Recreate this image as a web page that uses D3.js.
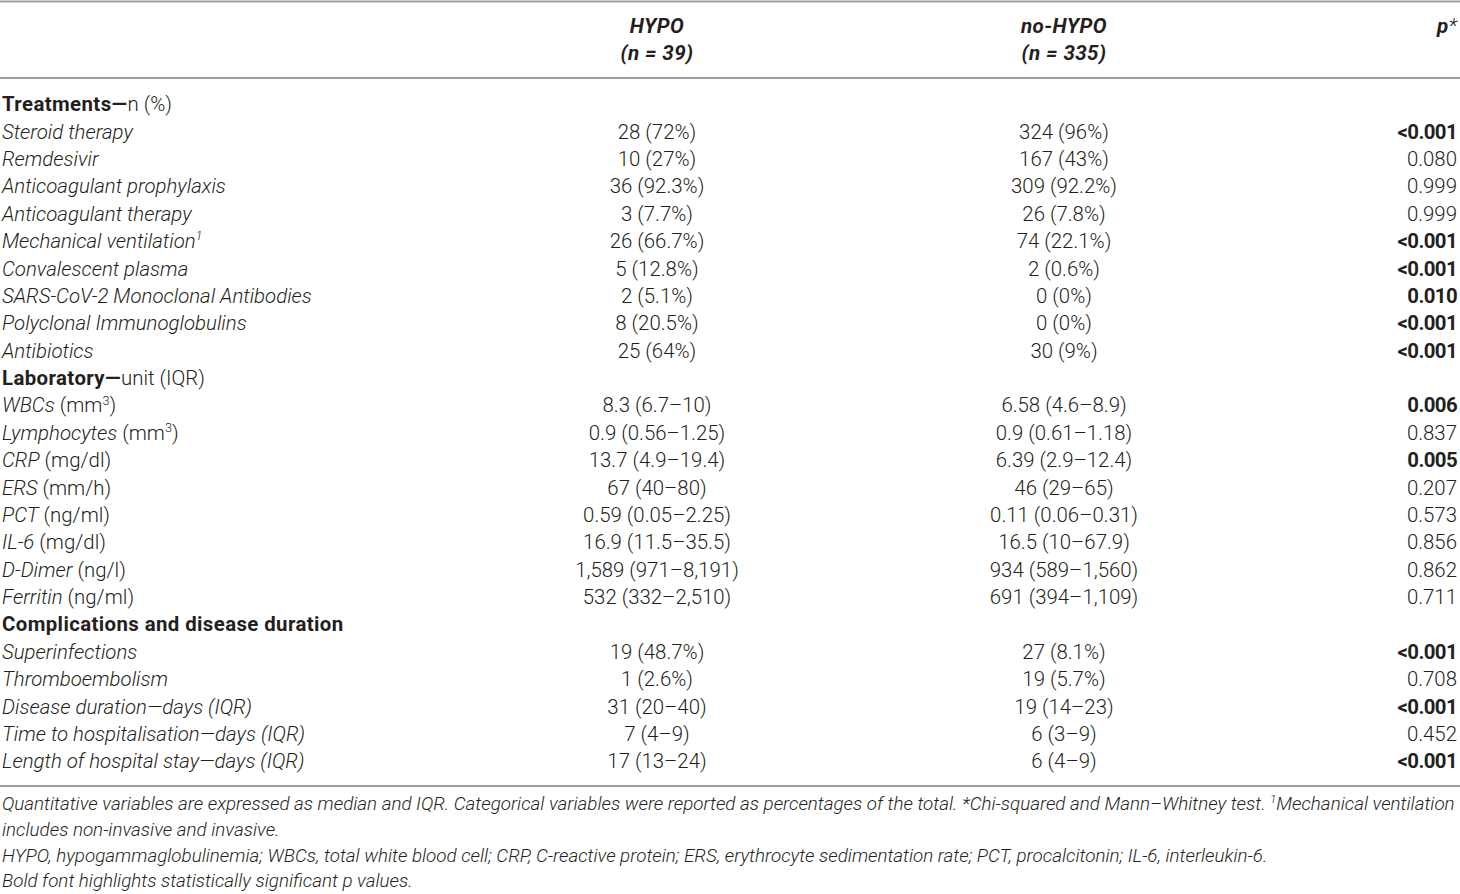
<!DOCTYPE html>
<html><head><meta charset="utf-8">
<script src="https://cdn.jsdelivr.net/npm/d3@7"></script>
<style>
body{margin:0;background:#fff}
svg text{font-family:Roboto,"Liberation Sans",Arial,sans-serif;fill:#231f20;font-weight:300}
</style></head>
<body><svg id="chart" width="1460" height="894"></svg>
<script>
// ---- data ----
const columnHeads = ["_**HYPO**_", "_**no-HYPO**_", "_**p***_"];
const columnSubheads = ["_**(n = 39)**_", "_**(n = 335)**_", ""];
const rowLabels = [
  "**Treatments—**n (%)",
  "_Steroid therapy_",
  "_Remdesivir_",
  "_Anticoagulant prophylaxis_",
  "_Anticoagulant therapy_",
  "_Mechanical ventilation_~1~",
  "_Convalescent plasma_",
  "_SARS-CoV-2 Monoclonal Antibodies_",
  "_Polyclonal Immunoglobulins_",
  "_Antibiotics_",
  "**Laboratory—**unit (IQR)",
  "_WBCs_ (mm^3^)",
  "_Lymphocytes_ (mm^3^)",
  "_CRP_ (mg/dl)",
  "_ERS_ (mm/h)",
  "_PCT_ (ng/ml)",
  "_IL-6_ (mg/dl)",
  "_D-Dimer_ (ng/l)",
  "_Ferritin_ (ng/ml)",
  "**Complications and disease duration**",
  "_Superinfections_",
  "_Thromboembolism_",
  "_Disease duration—days (IQR)_",
  "_Time to hospitalisation—days (IQR)_",
  "_Length of hospital stay—days (IQR)_"
];
const hypoValues = ["", "28 (72%)", "10 (27%)", "36 (92.3%)", "3 (7.7%)", "26 (66.7%)", "5 (12.8%)", "2 (5.1%)", "8 (20.5%)", "25 (64%)",
  "", "8.3 (6.7–10)", "0.9 (0.56–1.25)", "13.7 (4.9–19.4)", "67 (40–80)", "0.59 (0.05–2.25)", "16.9 (11.5–35.5)", "1,589 (971–8,191)", "532 (332–2,510)",
  "", "19 (48.7%)", "1 (2.6%)", "31 (20–40)", "7 (4–9)", "17 (13–24)"];
const noHypoValues = ["", "324 (96%)", "167 (43%)", "309 (92.2%)", "26 (7.8%)", "74 (22.1%)", "2 (0.6%)", "0 (0%)", "0 (0%)", "30 (9%)",
  "", "6.58 (4.6–8.9)", "0.9 (0.61–1.18)", "6.39 (2.9–12.4)", "46 (29–65)", "0.11 (0.06–0.31)", "16.5 (10–67.9)", "934 (589–1,560)", "691 (394–1,109)",
  "", "27 (8.1%)", "19 (5.7%)", "19 (14–23)", "6 (3–9)", "6 (4–9)"];
const pValues = ["", "<0.001", "0.080", "0.999", "0.999", "<0.001", "<0.001", "0.010", "<0.001", "<0.001",
  "", "0.006", "0.837", "0.005", "0.207", "0.573", "0.856", "0.862", "0.711",
  "", "<0.001", "0.708", "<0.001", "0.452", "<0.001"];
const footnotes = [
  "_Quantitative variables are expressed as median and IQR. Categorical variables were reported as percentages of the total. *Chi-squared and Mann–Whitney test. _~1~_Mechanical ventilation_",
  "_includes non-invasive and invasive._",
  "_HYPO, hypogammaglobulinemia; WBCs, total white blood cell; CRP, C-reactive protein; ERS, erythrocyte sedimentation rate; PCT, procalcitonin; IL-6, interleukin-6._",
  "_Bold font highlights statistically significant p values._"
];

// ---- layout ----
const W = 1460, H = 894, FS = 20.4, FFS = 18.8, HFS = 20.6;
const svg = d3.select("#chart");
const rowIdx = d3.range(rowLabels.length);
const y = d3.scaleBand().domain(rowIdx).range([90.3, 774.7]);
const colX = d3.scaleOrdinal().domain(["label", "hypo", "nohypo", "p"]).range([2, 657, 1064, 1457]);
const colAnchor = {label: "start", hypo: "middle", nohypo: "middle", p: "end"};
const headY = d3.scalePoint().domain(["head", "sub"]).range([26, 53]);
const footY = d3.scaleBand().domain(d3.range(footnotes.length)).range([790.5, 894]);
const lineY = [1.5, 78, 786];

// markup parser: **bold**, _italic_, ^sup^, ~italic sup~
function parse(str) {
  const segs = [];
  let bold = false, ital = false;
  const re = /(\*\*|_|\^[^^]*\^|~[^~]*~)/g;
  let last = 0, m;
  while ((m = re.exec(str))) {
    if (m.index > last) segs.push({t: str.slice(last, m.index), b: bold, i: ital});
    const tok = m[0];
    if (tok === "**") bold = !bold;
    else if (tok === "_") ital = !ital;
    else if (tok[0] === "^") segs.push({t: tok.slice(1, -1), b: bold, i: ital, sup: true});
    else segs.push({t: tok.slice(1, -1), b: bold, i: true, sup: true});
    last = re.lastIndex;
  }
  if (last < str.length) segs.push({t: str.slice(last), b: bold, i: ital});
  return segs;
}
function rich(sel, str, fs) {
  const segs = parse(str);
  let shifted = false;
  segs.forEach(s => {
    const ts = sel.append("tspan").text(s.t)
      .attr("font-weight", s.b ? 700 : null)
      .attr("letter-spacing", s.b ? 0.4 : null)
      .attr("font-style", s.i ? "italic" : null);
    if (s.sup) { ts.attr("font-size", fs * 0.62).attr("dy", -fs * 0.38); shifted = true; }
    else if (shifted) { ts.attr("dy", fs * 0.38); shifted = false; }
  });
}

// rules
svg.selectAll("line.rule").data(lineY).join("line").attr("class", "rule")
  .attr("x1", 0).attr("x2", W).attr("y1", d => d).attr("y2", d => d)
  .attr("stroke", "#9d9d9d").attr("stroke-width", 1.8);

// header
const hk = ["hypo", "nohypo", "p"];
hk.forEach((k, j) => {
  const t1 = svg.append("text").attr("x", colX(k)).attr("y", headY("head") + HFS * 0.36)
    .attr("text-anchor", colAnchor[k]).attr("font-size", HFS);
  rich(t1, columnHeads[j], HFS);
  if (columnSubheads[j]) {
    const t2 = svg.append("text").attr("x", colX(k)).attr("y", headY("sub") + HFS * 0.36)
      .attr("text-anchor", colAnchor[k]).attr("font-size", HFS);
    rich(t2, columnSubheads[j], HFS);
  }
});

// body rows
const cy = i => y(i) + y.bandwidth() / 2 + FS * 0.36;
rowIdx.forEach(i => {
  const t = svg.append("text").attr("x", colX("label")).attr("y", cy(i)).attr("font-size", FS);
  rich(t, rowLabels[i], FS);
});
svg.selectAll("text.hypo").data(rowIdx.filter(i => hypoValues[i])).join("text").attr("class", "hypo")
  .attr("x", colX("hypo")).attr("y", cy).attr("text-anchor", "middle").attr("font-size", FS)
  .text(i => hypoValues[i]);
svg.selectAll("text.nohypo").data(rowIdx.filter(i => noHypoValues[i])).join("text").attr("class", "nohypo")
  .attr("x", colX("nohypo")).attr("y", cy).attr("text-anchor", "middle").attr("font-size", FS)
  .text(i => noHypoValues[i]);
const sig = p => p.startsWith("<") || (+p < 0.05);
svg.selectAll("text.pval").data(rowIdx.filter(i => pValues[i])).join("text").attr("class", "pval")
  .attr("x", colX("p")).attr("y", cy).attr("text-anchor", "end").attr("font-size", FS)
  .attr("letter-spacing", i => sig(pValues[i]) ? -0.6 : null)
  .style("font-weight", i => sig(pValues[i]) ? 700 : 300)
  .text(i => pValues[i]);

// footnotes
footnotes.forEach((f, i) => {
  const t = svg.append("text").attr("x", 2).attr("y", footY(i) + footY.bandwidth() / 2 + FFS * 0.34)
    .attr("font-size", FFS);
  rich(t, f, FFS);
});
</script></body></html>
